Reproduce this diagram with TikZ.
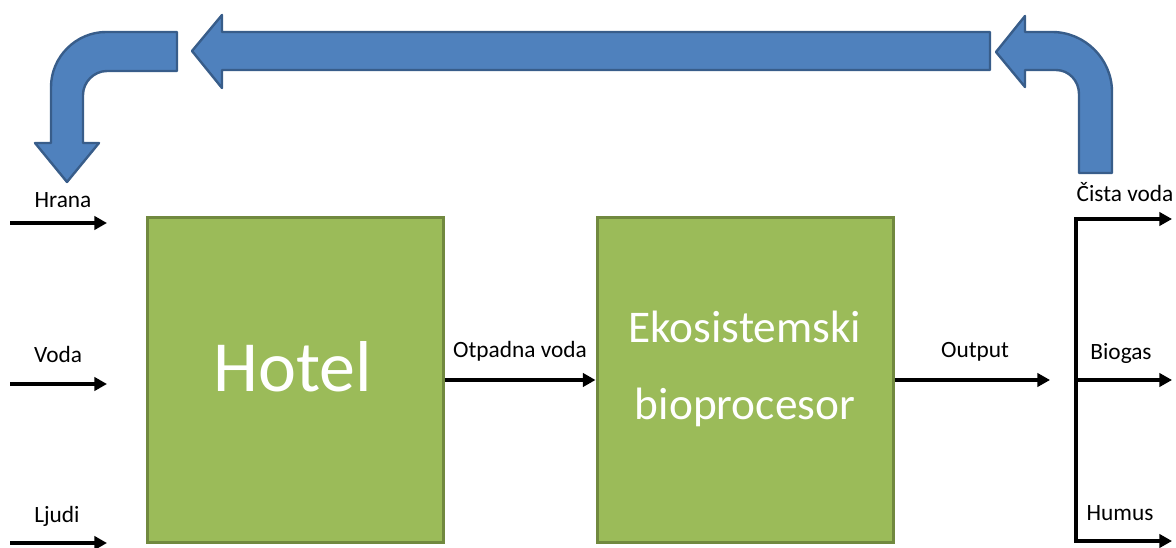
\documentclass[tikz,border=0pt]{standalone}
\usepackage{fontspec}
\setmainfont{Carlito}
\usetikzlibrary{arrows.meta}
\definecolor{boxfill}{HTML}{9BBB59}
\definecolor{boxline}{HTML}{71893F}
\definecolor{bluefill}{HTML}{4F81BD}
\definecolor{blueline}{HTML}{385D8A}
\tikzset{
  box/.style={draw=boxline, fill=boxfill, line width=2.25pt, minimum width=222pt, minimum height=243pt, inner sep=0pt},
  flow/.style={line width=2.3pt, -{Triangle[length=9.5pt,width=10pt]}},
  lbl/.style={anchor=base, font=\fontsize{17.5}{21}\selectfont, inner sep=0pt},
  boxtxt/.style={anchor=base, text=white, inner sep=0pt},
  bigarrow/.style={fill=bluefill, draw=blueline, line width=1.8pt, line join=round}
}
\begin{document}
\begin{tikzpicture}[x=0.75pt,y=-0.75pt]
\useasboundingbox (0,0) rectangle (1176,548);
% big blue arrows
\path[bigarrow] (990,32) -- (222,32) -- (222,15) -- (192,51) -- (222,88) -- (222,70) -- (990,70) -- cycle;
\path[bigarrow] (177,32) -- (106,32) .. controls (76,32) and (51,57) .. (51,87) -- (51,143) -- (35,143) -- (67,182) -- (99,143) -- (83,143) -- (83,95) .. controls (83,82) and (94,71) .. (107,71) -- (177,71) -- cycle;
\path[bigarrow] (1112,173) -- (1112,92) .. controls (1112,59) and (1085,32) .. (1052,32) -- (1025,32) -- (1025,16) -- (996,52) -- (1025,87) -- (1025,70) -- (1056,70) .. controls (1069,70) and (1079,81) .. (1079,94) -- (1079,173) -- cycle;
% boxes
\node[box] (hotel) at (295,380) {};
\node[box] (eko) at (745,380) {};
\node[boxtxt, font=\fontsize{54}{60}\selectfont] (hoteltxt) at (293,391) {Hotel};
\node[boxtxt, font=\fontsize{34}{40}\selectfont] (ekotxt1) at (745,343) {Ekosistemski};
\node[boxtxt, font=\fontsize{34}{40}\selectfont] (ekotxt2) at (745,419) {bioprocesor};
% inputs
\coordinate (hs) at (10,223); \coordinate (he) at (107,223);
\coordinate (vs) at (10,384); \coordinate (ve) at (107,384);
\coordinate (ls) at (10,543); \coordinate (le) at (107,543);
\draw[flow] (hs) -- (he);
\draw[flow] (vs) -- (ve);
\draw[flow] (ls) -- (le);
\node[lbl] (hrana) at (63,208) {Hrana};
\node[lbl] (voda) at (58,363) {Voda};
\node[lbl] (ljudi) at (57,522) {Ljudi};
% middle
\draw[flow] (hotel.east) -- (eko.west);
\node[lbl] (otp) at (520,358) {Otpadna voda};
\coordinate (outend) at (1050,380);
\draw[flow] (eko.east) -- (outend);
\node[lbl] (output) at (975,358) {Output};
% outputs
\coordinate (bt) at (1076,219); \coordinate (bm) at (1076,380); \coordinate (bb) at (1076,541);
\coordinate (ct) at (1172,219); \coordinate (cm) at (1172,380); \coordinate (cb) at (1172,541);
\draw[flow, line join=miter] (bb) -- (bt) -- (ct);
\draw[flow] (bm) -- (cm);
\draw[flow, line join=miter] (bt) -- (bb) -- (cb);
\node[lbl] (cista) at (1125,202) {Čista voda};
\node[lbl] (biogas) at (1121,359) {Biogas};
\node[lbl] (humus) at (1120,520) {Humus};
\end{tikzpicture}
\end{document}
